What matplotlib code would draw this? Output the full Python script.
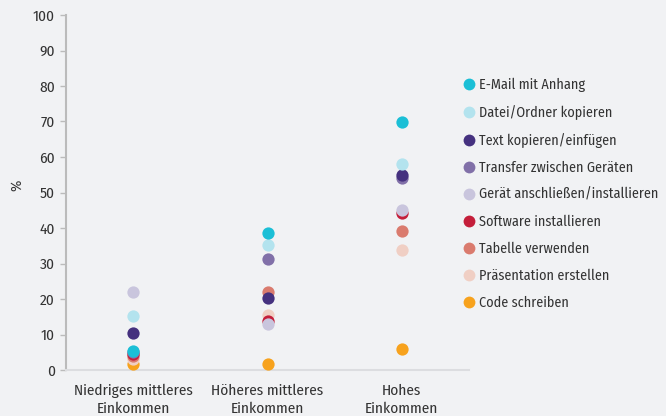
import matplotlib
matplotlib.use('Agg')
import matplotlib.pyplot as plt
from matplotlib.lines import Line2D

plt.rcParams['font.family'] = ['Fira Sans Condensed', 'DejaVu Sans']

categories = ['Niedriges mittleres\nEinkommen', 'Höheres mittleres\nEinkommen', 'Hohes\nEinkommen']
series_names = ['E-Mail mit Anhang', 'Datei/Ordner kopieren', 'Text kopieren/einfügen',
                'Transfer zwischen Geräten', 'Gerät anschließen/installieren',
                'Software installieren', 'Tabelle verwenden', 'Präsentation erstellen',
                'Code schreiben']
email = [5.4, 38.6, 69.8]
datei = [15.3, 35.3, 58.1]
text = [10.3, 20.2, 55.0]
transfer = [5.2, 31.4, 54.2]
geraet = [21.9, 13.0, 45.1]
software = [4.4, 13.8, 44.2]
tabelle = [4.0, 22.1, 39.2]
praesentation = [3.0, 15.5, 33.8]
code = [1.6, 1.6, 5.9]
values = [email, datei, text, transfer, geraet, software, tabelle, praesentation, code]
colors = ['#1BBFD6', '#B3E3EE', '#45317F', '#8170A8', '#C9C5DD',
          '#C41E3A', '#DA7B6E', '#F0CFC4', '#F7A21D']

bg = '#F1F2F4'
fig = plt.figure(figsize=(6.66, 4.16), dpi=100, facecolor=bg)
ax = fig.add_axes([66 / 666, 46 / 416, 403 / 666, 355 / 416], facecolor=bg)

xs = range(len(categories))
# first series ends up on top
for i in reversed(range(len(values))):
    ax.scatter(xs, values[i], s=78, color=colors[i], linewidths=0, zorder=3 + (9 - i))

ax.set_xlim(-0.5, 2.5)
ax.set_ylim(0, 100)
ax.set_yticks(range(0, 101, 10))
ax.set_xticks(list(xs))
ax.set_xticklabels(categories, fontsize=11, color='#333333', linespacing=1.35)
ax.tick_params(axis='x', length=0, pad=10)
ax.tick_params(axis='y', length=4, width=1, color='#BBBBBB', labelsize=11,
               labelcolor='#333333', pad=4)
ax.set_ylabel('%', fontsize=11, color='#333333')
ax.yaxis.set_label_coords(-0.104, 0.52)

for s in ['top', 'right']:
    ax.spines[s].set_visible(False)
ax.spines['left'].set_color('#BBBBBB')
ax.spines['left'].set_linewidth(1.5)
ax.spines['bottom'].set_color('#DCDDE0')
ax.spines['bottom'].set_linewidth(1.5)

handles = [Line2D([], [], marker='o', linestyle='', markersize=8.5,
                  markerfacecolor=c, markeredgewidth=0) for c in colors]
ax.legend(handles, series_names, loc='upper left', bbox_to_anchor=(464 / 666, 338 / 416),
          bbox_transform=fig.transFigure, frameon=False, fontsize=10.2,
          labelcolor='#333333', handlelength=0.7, handletextpad=0.35,
          labelspacing=0.9, borderpad=0, borderaxespad=0)

fig.savefig('out.png', dpi=100, facecolor=bg)
